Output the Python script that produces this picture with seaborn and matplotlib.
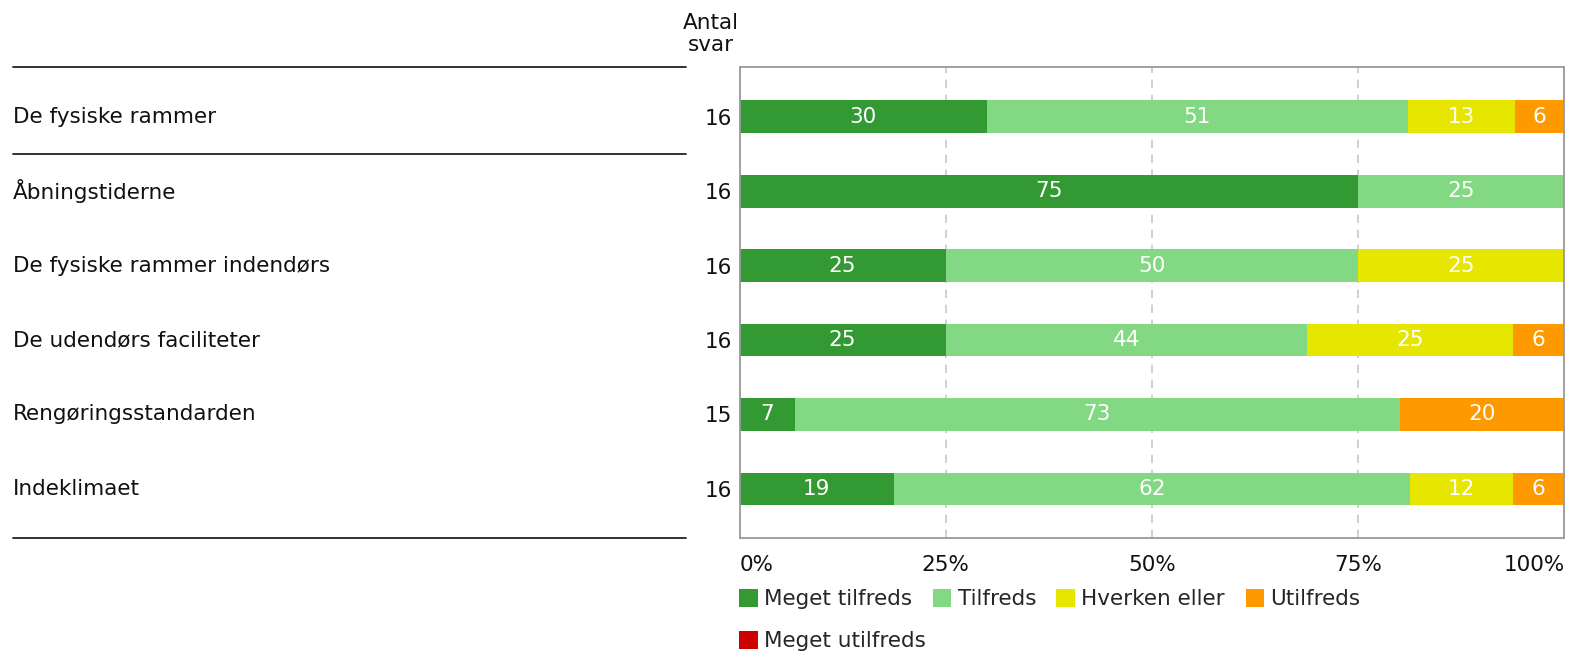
import numpy as np
import pandas as pd
import seaborn as sns
import matplotlib
matplotlib.use('Agg')
import matplotlib.pyplot as plt
from matplotlib.lines import Line2D
from matplotlib.patches import Patch
from matplotlib.transforms import blended_transform_factory

# Data
categories = ['De fysiske rammer', 'Åbningstiderne', 'De fysiske rammer indendørs',
              'De udendørs faciliteter', 'Rengøringsstandarden', 'Indeklimaet']
counts = [16, 16, 16, 16, 15, 16]
levels = ['Meget tilfreds', 'Tilfreds', 'Hverken eller', 'Utilfreds', 'Meget utilfreds']
meget_tilfreds = [30, 75, 25, 25, 6.67, 18.75]
tilfreds = [51, 25, 50, 43.75, 73.33, 62.5]
hverken = [13, 0, 25, 25, 0, 12.5]
utilfreds = [6, 0, 0, 6.25, 20, 6.25]
meget_utilfreds = [0, 0, 0, 0, 0, 0]
ticks = [0, 25, 50, 75, 100]
tick_labels = ['0%', '25%', '50%', '75%', '100%']

colors = ['#339933', '#83d883', '#e6e600', '#ff9900', '#cc0000']
FS = 15.5

sns.set_theme(style='white')
plt.rcParams['font.family'] = ['DejaVu Sans']

series = [meget_tilfreds, tilfreds, hverken, utilfreds, meget_utilfreds]
cum = np.cumsum(np.array(series, dtype=float), axis=0)

fig = plt.figure(figsize=(15.71, 6.56), dpi=100)
ax = fig.add_axes([739.5 / 1571, 1 - 538 / 656, 825 / 1571, 471 / 656])

# stacked bars: draw cumulative totals from the widest down
for i in range(len(levels) - 1, -1, -1):
    df = pd.DataFrame({'cat': categories, 'val': cum[i]})
    sns.barplot(data=df, x='val', y='cat', order=categories, color=colors[i],
                width=0.44, linewidth=0, saturation=1, ax=ax)

# value labels
for i in range(len(levels)):
    for j in range(len(categories)):
        v = series[i][j]
        if v <= 0:
            continue
        ax.text(cum[i][j] - v / 2, j, f'{round(v)}', ha='center', va='center',
                color='white', fontsize=FS)

ax.set_xlim(0, 100)
ax.set_ylim(len(categories) - 0.34, -0.67)
for g in ticks[1:-1]:
    ax.axvline(g, color='#c8c8c8', lw=1.2, ls=(0, (5, 4)), zorder=0)
ax.set_xlabel('')
ax.set_ylabel('')
ax.set_xticks(ticks)
ax.set_xticklabels(tick_labels, fontsize=FS, color='#111111')
xl = ax.get_xticklabels()
xl[0].set_ha('left')
xl[-1].set_ha('right')
ax.tick_params(axis='x', length=0, pad=12)
ax.set_yticks(range(len(categories)))
ax.set_yticklabels([str(c) for c in counts], fontsize=FS, color='#111111')
ax.tick_params(axis='y', length=0, pad=5)
for s in ax.spines.values():
    s.set_visible(True)
    s.set_color('#999999')
    s.set_linewidth(1.3)

# category names and separator lines on the left
ytr = blended_transform_factory(fig.transFigure, ax.transData)
for j, c in enumerate(categories):
    ax.text(13 / 1571, j, c, transform=ytr, ha='left', va='center',
            fontsize=FS, color='#111111')
for y in [ax.get_ylim()[1], 0.5, ax.get_ylim()[0]]:
    ax.add_line(Line2D([13 / 1571, 686 / 1571], [y, y], transform=ytr,
                       color='#222222', lw=1.3, clip_on=False))

fig.text(711 / 1571, 1 - 34 / 656, 'Antal\nsvar', ha='center', va='center',
         fontsize=FS, color='#111111', linespacing=1.1)

# legend, two rows
handles = [Patch(facecolor=c, edgecolor='none') for c in colors]
leg_kw = dict(frameon=False, fontsize=FS, handlelength=0.88, handleheight=0.88,
              handletextpad=0.28, columnspacing=0.95, borderpad=0, borderaxespad=0,
              loc='upper left')
fig.legend(handles[:4], levels[:4], ncol=4,
           bbox_to_anchor=(739 / 1571, 1 - 589 / 656), **leg_kw)
fig.legend(handles[4:], levels[4:], ncol=1,
           bbox_to_anchor=(739 / 1571, 1 - 631 / 656), **leg_kw)

fig.savefig('out.png', dpi=100)
